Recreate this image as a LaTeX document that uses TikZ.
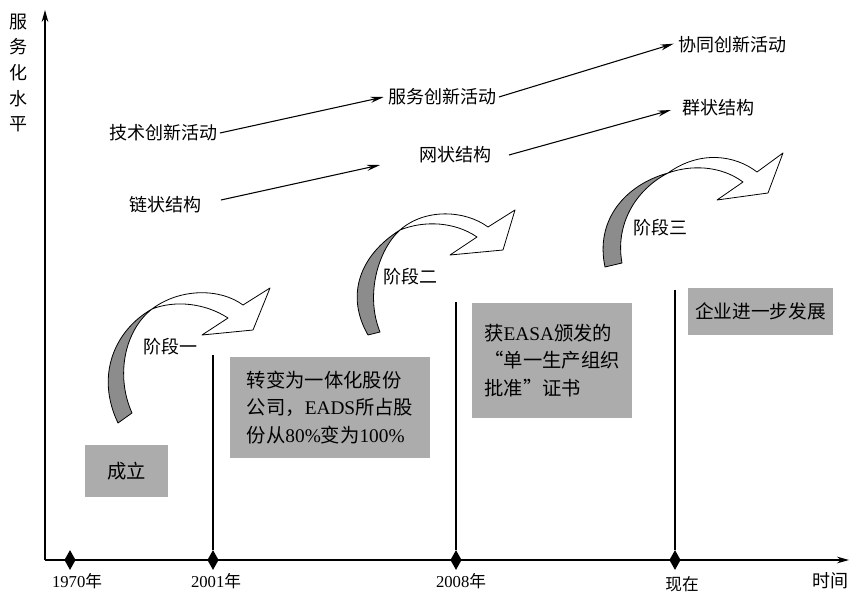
\documentclass[tikz,border=0pt]{standalone}
\usepackage{fontspec}
\setmainfont{Liberation Serif}
\newfontfamily\cjk{Noto Sans CJK SC}
\usetikzlibrary{arrows.meta,shapes.geometric}
\newcommand\zh[1]{{\cjk #1}}
\definecolor{boxgray}{RGB}{172,172,172}
\definecolor{tailgray}{RGB}{140,140,140}
\begin{document}
\begin{tikzpicture}[x=0.75pt,y=-0.75pt,
  axis/.style={line width=0.9pt,-{Stealth[length=9pt,width=5pt]}},
  trend/.style={line width=0.8pt,-{Stealth[length=10pt,width=4.5pt]}},
  lbl/.style={font=\fontsize{13.5pt}{16pt}\selectfont\cjk, inner sep=2pt},
  tick/.style={diamond, fill=black, minimum width=8.5pt, minimum height=15pt, inner sep=0pt},
  yrlbl/.style={font=\fontsize{12.5pt}{15pt}\selectfont, inner sep=1pt},
  infobox/.style={fill=boxgray, align=left, inner sep=0pt, font=\fontsize{14.5pt}{20.6pt}\selectfont},
  band/.style={draw=black, fill=white, line width=0.6pt, line join=round},
  tail/.style={draw=black, fill=tailgray, line width=0.6pt, line join=round},
  vline/.style={line width=0.8pt}
]
\useasboundingbox (0,0) rectangle (850,600);

% axes
\coordinate (O) at (45,560);
\coordinate (ytop) at (45,10);
\coordinate (xend) at (849,560);
\draw[axis] (O) -- (ytop);
\draw[axis] (O) -- (xend);

\node[lbl, align=center, font=\fontsize{13.5pt}{19.3pt}\selectfont\cjk] (ylab) at (18,73) {服\\务\\化\\水\\平};
\node[lbl] (xlab) at (830,581) {时间};

% ticks
\node[tick] (t1) at (70,560) {};
\node[tick] (t2) at (213,560) {};
\node[tick] (t3) at (456,560) {};
\node[tick] (t4) at (675,560) {};
\coordinate (v2) at (213,355);
\coordinate (v3) at (456,302);
\coordinate (v4) at (675,290);
\draw[vline] (t2) -- (v2);
\draw[vline] (t3) -- (v3);
\draw[vline] (t4) -- (v4);

\node[yrlbl] (y1) at (77,581) {1970\zh{年}};
\node[yrlbl] (y2) at (216,581) {2001\zh{年}};
\node[yrlbl] (y3) at (461,581) {2008\zh{年}};
\node[yrlbl] (y4) at (682,584) {\zh{现在}};

% boxes
\node[infobox, minimum width=62pt, minimum height=39pt, align=center] (b1) at (126.5,471) {\zh{成立}};
\node[infobox, minimum width=150pt, minimum height=76pt] (b2) at (330,407.5)
  {\zh{转变为一体化股份}\\\zh{公司，}EADS\zh{所占股}\\\zh{份从}80\%\zh{变为}100\%};
\node[infobox, minimum width=120pt, minimum height=86pt] (b3) at (552,360.5)
  {\zh{获}EASA\zh{颁发的}\\\zh{“单一生产组织}\\\zh{批准”证书}};
\node[infobox, minimum width=109pt, minimum height=35pt, font=\fontsize{14pt}{17pt}\selectfont] (b4) at (760.5,311.5) {\zh{企业进一步发展}};

% trend labels
\node[lbl] (tech) at (163,133) {技术创新活动};
\node[lbl] (chain) at (165,205) {链状结构};
\node[lbl] (serv) at (442,97) {服务创新活动};
\node[lbl] (net) at (455,155) {网状结构};
\node[lbl] (coop) at (732,45) {协同创新活动};
\node[lbl] (group) at (718,108) {群状结构};

\draw[trend] (tech.east) -- ([xshift=-1]serv.west);
\draw[trend] (serv.east) -- ([xshift=-1,yshift=1]coop.west);
\draw[trend] ([shift={(17,-5)}]chain.east) -- ([shift={(-36,10)}]net.west);
\draw[trend] ([shift={(15,0)}]net.east) -- ([shift={(-8,2)}]group.west);

% stage 1 curved arrow
\coordinate (j1) at (152,309);
\fill[tail] (118,423) .. controls (95,375) and (115,330) .. (j1) .. controls (125,330) and (115,375) .. (132,413) -- cycle;
\filldraw[band] (j1) .. controls (180,288) and (220,288) .. (243,305) -- (270,288) -- (253,330) -- (202,335) -- (228,318) .. controls (205,303) and (175,300) .. (j1) -- cycle;
\node[lbl] (s1) at (170,347) {阶段一};

% stage 2 curved arrow
\coordinate (j2) at (400,230);
\fill[tail] (368,335) .. controls (345,295) and (360,255) .. (j2) .. controls (378,250) and (365,295) .. (380,332) -- cycle;
\filldraw[band] (j2) .. controls (425,208) and (465,210) .. (488,227) -- (515,210) -- (503,250) -- (450,255) -- (477,237) .. controls (455,222) and (425,220) .. (j2) -- cycle;
\node[lbl] (s2) at (410,277) {阶段二};

% stage 3 curved arrow
\coordinate (j3) at (668,173);
\fill[tail] (605,267) .. controls (595,220) and (625,185) .. (j3) .. controls (635,190) and (615,225) .. (622,263) -- cycle;
\filldraw[band] (j3) .. controls (700,150) and (735,155) .. (757,172) -- (783,153) -- (768,193) -- (717,200) -- (743,182) .. controls (720,165) and (690,165) .. (j3) -- cycle;
\node[lbl] (s3) at (660,228) {阶段三};
\end{tikzpicture}
\end{document}
